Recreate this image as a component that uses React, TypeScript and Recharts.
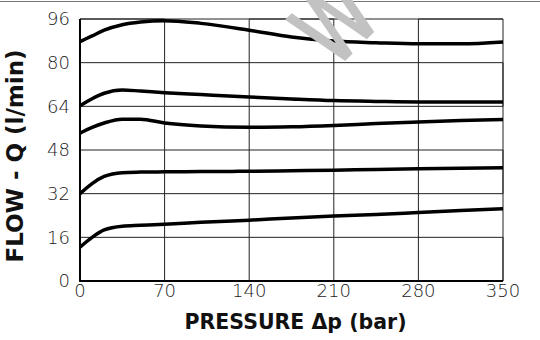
import { LineChart, Line, XAxis, YAxis } from 'recharts';

const pressure = [0, 10, 20, 35, 50, 70, 100, 140, 175, 210, 245, 280, 315, 350];

const flowA = [87.7, 89.8, 91.9, 93.9, 94.9, 95.4, 94.4, 91.9, 89.4, 87.9, 87.3, 86.9, 86.9, 87.6];
const flowB = [64.2, 66.8, 68.8, 70.0, 69.6, 69.0, 68.3, 67.4, 66.7, 66.1, 65.8, 65.6, 65.6, 65.6];
const flowC = [54.2, 56.3, 57.9, 59.3, 59.3, 57.9, 56.8, 56.3, 56.5, 57.0, 57.7, 58.3, 58.8, 59.2];
const flowD = [32.0, 35.7, 38.3, 39.7, 39.9, 40.0, 40.1, 40.2, 40.4, 40.6, 40.9, 41.1, 41.3, 41.5];
const flowE = [12.4, 16.0, 18.7, 20.1, 20.4, 20.8, 21.5, 22.3, 23.1, 23.8, 24.4, 25.1, 25.8, 26.5];

const xTicks = [0, 70, 140, 210, 280, 350];
const yTicks = [0, 16, 32, 48, 64, 80, 96];

const series = [flowA, flowB, flowC, flowD, flowE];

const xMin = xTicks[0];
const xMax = xTicks[xTicks.length - 1];
const yMin = yTicks[0];
const yMax = yTicks[yTicks.length - 1];

const curveRows = pressure.map((p, i) => {
  const row: Record<string, number> = { p };
  series.forEach((s, k) => {
    row['q' + k] = s[i];
  });
  return row;
});

// one snaking path through every grid line: verticals first, then horizontals
const gridPts: { p: number; g: number }[] = [];
xTicks.forEach((t, i) => {
  const down = i % 2 === 0;
  gridPts.push({ p: t, g: down ? yMin : yMax }, { p: t, g: down ? yMax : yMin });
});
yTicks.slice(1).forEach((t, i) => {
  const fromRight = i % 2 === 0;
  gridPts.push({ p: fromRight ? xMax : xMin, g: t }, { p: fromRight ? xMin : xMax, g: t });
});

// left + bottom axis as a single L
const axisPts = [
  { p: xMin, ax: yMax },
  { p: xMin, ax: yMin },
  { p: xMax, ax: yMin },
];

const rows: Record<string, number>[] = [...curveRows, ...gridPts, ...axisPts];

const tickStyle = { fill: '#1a1a1a', fontSize: 18, fontFamily: 'DejaVu Sans', fontWeight: 200 };

export default function App() {
  return (
    <div
      style={{
        position: 'absolute',
        left: 0,
        top: 0,
        width: 540,
        height: 340,
        background: '#ffffff',
        fontFamily: 'DejaVu Sans',
        overflow: 'hidden',
      }}
    >
      <div style={{ position: 'absolute', left: 0, top: 1, width: 540, height: 1, background: '#777' }} />
      <LineChart
        width={540}
        height={340}
        data={rows}
        margin={{ top: 19, right: 37, bottom: 0, left: 0 }}
      >
        <XAxis
          dataKey="p"
          type="number"
          domain={[xMin, xMax]}
          ticks={xTicks}
          height={59}
          tick={tickStyle}
          tickLine={false}
          tickSize={0}
          tickMargin={3}
          axisLine={{ stroke: '#000', strokeWidth: 1.5 }}
          label={{
            value: 'PRESSURE Δp (bar)',
            position: 'insideBottom',
            offset: 11,
            dx: 4,
            style: { fontSize: 20.5, fontWeight: 700, fill: '#111', fontFamily: 'DejaVu Sans' },
          }}
        />
        <YAxis
          type="number"
          domain={[yMin, yMax]}
          ticks={yTicks}
          width={80}
          tick={tickStyle}
          tickLine={false}
          tickSize={0}
          tickMargin={10}
          axisLine={{ stroke: '#000', strokeWidth: 1.5 }}
          label={{
            value: 'FLOW - Q (l/min)',
            angle: -90,
            position: 'insideLeft',
            offset: 21,
            dx: -6,
            dy: 6,
            style: { fontSize: 23, fontWeight: 700, fill: '#111', textAnchor: 'middle', fontFamily: 'DejaVu Sans' },
          }}
        />
        <Line
          dataKey="g"
          type="linear"
          connectNulls
          stroke="#222"
          strokeWidth={1}
          dot={false}
          activeDot={false}
          isAnimationActive={false}
        />
        <Line
          dataKey="ax"
          type="linear"
          connectNulls
          stroke="#000"
          strokeWidth={1.8}
          dot={false}
          activeDot={false}
          isAnimationActive={false}
        />
        {series.map((_, k) => (
          <Line
            key={k}
            dataKey={'q' + k}
            type="monotone"
            stroke="#000"
            strokeWidth={3.5}
            dot={false}
            isAnimationActive={false}
          />
        ))}
      </LineChart>
      <svg
        width={540}
        height={340}
        style={{ position: 'absolute', left: 0, top: 0, pointerEvents: 'none' }}
      >
        <text
          x={0}
          y={0}
          fontSize={94}
          fill="#c2c2c2"
          stroke="#c2c2c2"
          strokeWidth={3}
          fontFamily="DejaVu Sans"
          transform="translate(334 70) rotate(-45) scale(0.75 1)"
        >
          W
        </text>
      </svg>
    </div>
  );
}
